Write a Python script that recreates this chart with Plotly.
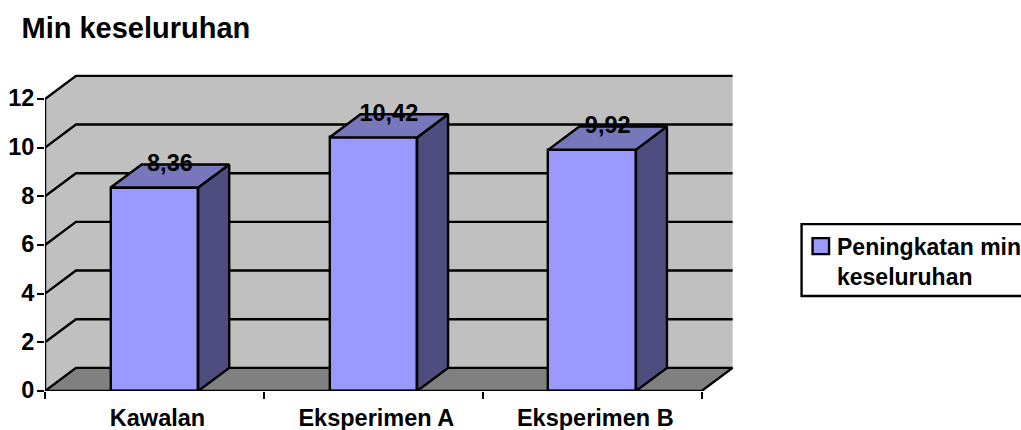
import plotly.graph_objects as go

# Chart data
categories = ["Kawalan", "Eksperimen A", "Eksperimen B"]
values = [8.36, 10.42, 9.92]
y_ticks = [0, 2, 4, 6, 8, 10, 12]
chart_title = "Min keseluruhan"
series_name = "Peningkatan min<br>keseluruhan"

# Box projection, in axis units: how far the back plane sits from the front plane
DEPTH_X = 0.1416
DEPTH_Y = 0.95
BAR_WIDTH = 0.4
X_LO, X_HI = -0.5, 2.5
Y_TOP = max(y_ticks)
# spare room past the back plane so its outline is not cut by the plot clip
PAD_X, PAD_Y = 0.02, 0.2
LABEL_SHIFT = 0.014

FONT = "Liberation Sans"
WALL, FLOOR = "#C0C0C0", "#808080"
FRONT, TOP, SIDE = "#9999FF", "#7777BB", "#4D4D80"
LINE_W = 2.4

# Plot rectangle on the 1021x430 page
W, H = 1021, 430
PX_PER_CAT, PX_PER_UNIT = 219, 24.35
PLOT_L, PLOT_B = 45, 391
PLOT_R = PLOT_L + PX_PER_CAT * (X_HI - X_LO + DEPTH_X + PAD_X)
PLOT_T = PLOT_B - PX_PER_UNIT * (Y_TOP + DEPTH_Y + PAD_Y)


def data_shape(points, fill=None, width=0, closed=True):
    path = "M " + " L ".join(f"{x} {y}" for x, y in points) + (" Z" if closed else "")
    return dict(
        type="path", path=path, xref="x", yref="y", layer="below",
        fillcolor=fill if fill else "rgba(0,0,0,0)",
        line=dict(color="#000000", width=width),
    )


shapes = [
    # back wall, side wall and floor
    data_shape([(X_LO + DEPTH_X, DEPTH_Y), (X_HI + DEPTH_X, DEPTH_Y),
                (X_HI + DEPTH_X, Y_TOP + DEPTH_Y), (X_LO + DEPTH_X, Y_TOP + DEPTH_Y)], WALL),
    data_shape([(X_LO, 0), (X_LO + DEPTH_X, DEPTH_Y),
                (X_LO + DEPTH_X, Y_TOP + DEPTH_Y), (X_LO, Y_TOP)], WALL),
    data_shape([(X_LO, 0), (X_HI, 0), (X_HI + DEPTH_X, DEPTH_Y), (X_LO + DEPTH_X, DEPTH_Y)], FLOOR),
]
# gridlines wrap from the side wall onto the back wall
for t in y_ticks:
    shapes.append(data_shape([(X_LO, t), (X_LO + DEPTH_X, t + DEPTH_Y),
                              (X_HI + DEPTH_X, t + DEPTH_Y)], None, LINE_W, closed=False))


def px_x(p):
    return (p - PLOT_L) / (PLOT_R - PLOT_L)


def px_y(p):
    return (PLOT_B - p) / (PLOT_B - PLOT_T)


# legend frame and swatch, the frame runs off the right side of the page
shapes.append(dict(type="rect", xref="paper", yref="paper", layer="above",
                   x0=px_x(802), x1=px_x(1040), y0=px_y(296), y1=px_y(224),
                   fillcolor="#FFFFFF", line=dict(color="#000000", width=LINE_W)))
shapes.append(dict(type="rect", xref="paper", yref="paper", layer="above",
                   x0=px_x(813), x1=px_x(829.5), y0=px_y(254), y1=px_y(238),
                   fillcolor=FRONT, line=dict(color="#000000", width=LINE_W)))

fig = go.Figure()

# front faces of the columns
fig.add_trace(go.Bar(
    x=list(range(len(categories))), y=values, width=BAR_WIDTH,
    marker=dict(color=FRONT, line=dict(color="#000000", width=LINE_W)),
    cliponaxis=False, showlegend=False, hoverinfo="skip",
))

# vertical axis, front floor edge and right floor edge
fig.add_trace(go.Scatter(
    x=[X_LO, X_LO, X_HI, X_HI + DEPTH_X], y=[Y_TOP, 0, 0, DEPTH_Y], mode="lines",
    line=dict(color="#000000", width=LINE_W), cliponaxis=False,
    showlegend=False, hoverinfo="skip",
))

# side and top faces of the columns
for i, v in enumerate(values):
    lo, hi = i - BAR_WIDTH / 2, i + BAR_WIDTH / 2
    side = [(hi, 0), (hi + DEPTH_X, DEPTH_Y), (hi + DEPTH_X, v + DEPTH_Y), (hi, v), (hi, 0)]
    top = [(lo, v), (hi, v), (hi + DEPTH_X, v + DEPTH_Y), (lo + DEPTH_X, v + DEPTH_Y), (lo, v)]
    for pts, colour in ((side, SIDE), (top, TOP)):
        fig.add_trace(go.Scatter(
            x=[p[0] for p in pts], y=[p[1] for p in pts], mode="lines", fill="toself",
            fillcolor=colour, line=dict(color="#000000", width=LINE_W),
            cliponaxis=False, showlegend=False, hoverinfo="skip",
        ))

# value labels sit on the back edge of each column top
fig.add_trace(go.Scatter(
    x=[i + DEPTH_X / 2 for i in range(len(values))],
    y=[v + DEPTH_Y - 0.04 for v in values],
    mode="text",
    text=[f"{v:.2f}".replace(".", ",") for v in values],
    textposition="middle center",
    textfont=dict(family=FONT, size=23.5, color="#000000", weight=700),
    cliponaxis=False, showlegend=False, hoverinfo="skip",
))

fig.update_layout(
    width=W, height=H, autosize=False,
    paper_bgcolor="#FFFFFF", plot_bgcolor="#FFFFFF",
    margin=dict(l=PLOT_L, r=W - PLOT_R, t=PLOT_T, b=H - PLOT_B, pad=0, autoexpand=False),
    showlegend=False, bargap=0,
    title=dict(text=chart_title, x=21.5 / W, xref="container", xanchor="left",
               y=1 - 28 / H, yref="container", yanchor="middle",
               font=dict(family=FONT, size=29, color="#000000", weight=700)),
    shapes=shapes,
    annotations=[dict(
        text=series_name, xref="paper", yref="paper", x=px_x(835), y=px_y(261.5),
        xanchor="left", yanchor="middle", align="left", showarrow=False,
        font=dict(family=FONT, size=23, color="#000000", weight=700),
    )],
    xaxis=dict(
        range=[X_LO, X_HI + DEPTH_X + PAD_X], showgrid=False, zeroline=False, showline=False,
        tickmode="array", tickvals=[i + LABEL_SHIFT for i in range(len(categories))],
        ticktext=categories, ticks="", ticklabelstandoff=10,
        tickfont=dict(family=FONT, size=23.5, color="#000000", weight=700),
        minor=dict(tickmode="array", tickvals=[X_LO, 0.5, 1.5, X_HI], ticks="outside",
                   ticklen=7, tickwidth=LINE_W, tickcolor="#000000", showgrid=False),
    ),
    yaxis=dict(
        range=[0, Y_TOP + DEPTH_Y + PAD_Y], showgrid=False, zeroline=False, showline=False,
        tickmode="array", tickvals=y_ticks, ticktext=[str(t) for t in y_ticks],
        ticks="outside", ticklen=7, tickwidth=LINE_W, tickcolor="#000000",
        ticklabelstandoff=-2, ticklabelshift=-1,
        tickfont=dict(family=FONT, size=23.5, color="#000000", weight=700),
    ),
)

fig.write_html("out.html", config=dict(displayModeBar=False))
